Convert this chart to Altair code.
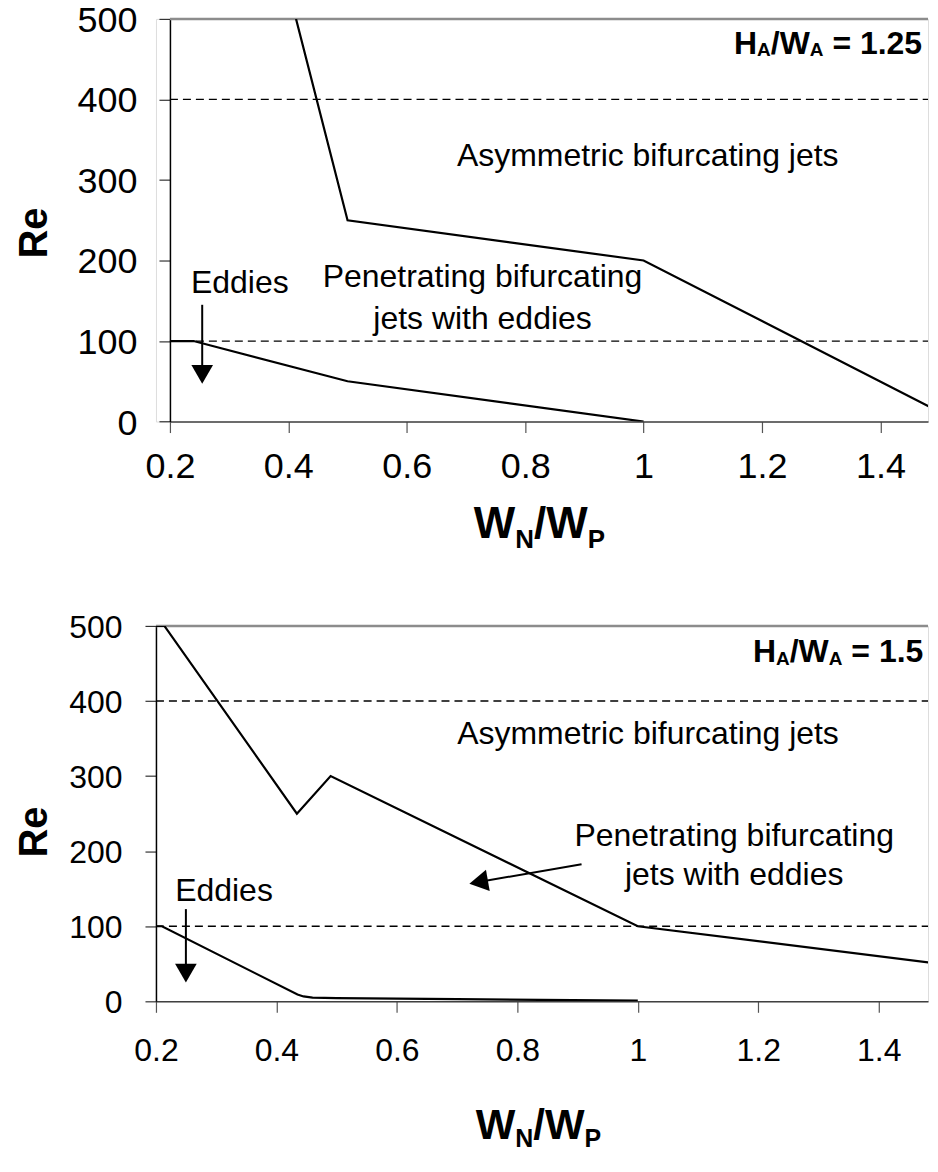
import altair as alt
import pandas as pd

FONT = "Liberation Sans"

# ---------------- data ----------------
x_ticks = [0.2, 0.4, 0.6, 0.8, 1.0, 1.2, 1.4]
y_ticks = [0, 100, 200, 300, 400, 500]
dashed_levels = [400, 100]
frame_top = [500]

# Panel 1: H_A/W_A = 1.25
p1_upper_x = [0.413, 0.5, 1.0, 1.5]
p1_upper_re = [500, 250, 200, 12]
p1_lower_x = [0.2, 0.24, 0.5, 1.0]
p1_lower_re = [100, 100, 50, 0]

# Panel 2: H_A/W_A = 1.5
p2_upper_x = [0.2, 0.214, 0.434, 0.49, 1.0, 1.5]
p2_upper_re = [500, 500, 250, 300, 100, 50]
p2_lower_x = [0.2, 0.21, 0.435, 0.445, 0.46, 0.5, 0.7, 1.0]
p2_lower_re = [100, 100, 9, 6.5, 5, 4.2, 3, 0.8]

# annotation texts (label, x, Re)
p1_labels = ["Asymmetric bifurcating jets", "Penetrating bifurcating", "jets with eddies", "Eddies"]
p1_label_x = [1.007, 0.728, 0.728, 0.318]
p1_label_re = [329.7, 179.3, 127.6, 171.7]
p2_labels = ["Asymmetric bifurcating jets", "Penetrating bifurcating", "jets with eddies", "Eddies"]
p2_label_x = [1.017, 1.160, 1.160, 0.313]
p2_label_re = [356.1, 220.7, 168.0, 147.3]

# arrows: (x_start, re_start, x_head, re_head, head_angle)
p1_arrows = [(0.2545, 145, 0.2545, 58.6, 180)]
p2_arrows = [(0.2497, 122.8, 0.2497, 37.6, 180), (0.9066, 182.7, 0.7357, 158.9, 260)]

BOLD_W = {"H": .722, "A": .722, "/": .278, "W": .944, "N": .722, "P": .667,
          " ": .278, "=": .584, "1": .556, ".": .278, "2": .556, "5": .556}

one_row = pd.DataFrame({"k": [0]})


def rich_text(pieces, x0, y0):
    """pieces: (text, font size, baseline shift, gap before in em)"""
    layers = []
    x = x0
    for text, size, dy, gap in pieces:
        x += gap * size
        layers.append(
            alt.Chart(one_row).mark_text(
                text=text, font=FONT, fontSize=size, fontWeight="bold",
                align="left", baseline="alphabetic", color="black"
            ).encode(x=alt.value(x), y=alt.value(y0 + dy))
        )
        x += sum(BOLD_W[c] for c in text) * size
    return layers


def panel(upper_x, upper_re, lower_x, lower_re, labels, lab_x, lab_re, arrows,
          width, shift, height, xmax, ylab_fs, ylab_pad, ytitle_pad, ytitle_y,
          xlab_fs, xlab_pad, text_fs, ha_text, ha_pos, xt_pos, xt_sizes):
    X = alt.X("x:Q", scale=alt.Scale(domain=[0.2, xmax], nice=False, zero=False,
                                     range=[shift, shift + width]),
              axis=alt.Axis(values=x_ticks, format=".1~f", title=None,
                            labelFontSize=xlab_fs, labelPadding=xlab_pad, tickSize=11,
                            grid=False, domainColor="#404040", domainWidth=1.5,
                            tickColor="#555555", tickWidth=1.2,
                            labelFont=FONT, labelColor="black",
                            labelFlush=False, labelOverlap=False))
    Y = alt.Y("re:Q", scale=alt.Scale(domain=[0, 500], nice=False),
              axis=alt.Axis(values=y_ticks, title="Re", titleFont=FONT,
                            titleFontSize=40, titleFontWeight="bold", titleColor="black",
                            titlePadding=ytitle_pad, titleY=ytitle_y, offset=-shift,
                            labelFontSize=ylab_fs, labelPadding=ylab_pad, tickSize=11,
                            labelOffset=1.5,
                            grid=False, domainColor="black", domainWidth=1.5,
                            tickColor="#333333", tickWidth=1.2,
                            labelFont=FONT, labelColor="black", labelOverlap=False))

    curves = pd.DataFrame({
        "x": upper_x + lower_x,
        "re": upper_re + lower_re,
        "curve": ["upper"] * len(upper_x) + ["lower"] * len(lower_x),
    })
    border = pd.DataFrame({"re": frame_top, "x": [0.2] * len(frame_top),
                           "x2": [xmax] * len(frame_top)})
    dashed = pd.DataFrame({"re": dashed_levels, "x": [0.2] * len(dashed_levels),
                           "x2": [xmax] * len(dashed_levels)})
    texts = pd.DataFrame({"label": labels, "x": lab_x, "re": lab_re})
    shafts = pd.DataFrame({"x": [a[0] for a in arrows], "re": [a[1] for a in arrows],
                           "x2": [a[2] for a in arrows], "re2": [a[3] for a in arrows]})

    layers = [
        alt.Chart(border).mark_rule(color="#8c8c8c", strokeWidth=2.5).encode(
            x=X, x2="x2:Q", y=Y),
        alt.Chart(dashed).mark_rule(color="black", strokeWidth=1.3, strokeDash=[8, 5]).encode(
            x=X, x2="x2:Q", y=Y),
        alt.Chart(curves).mark_line(color="black", strokeWidth=2.2, clip=True).encode(
            x=X, y=Y, detail="curve:N"),
        alt.Chart(texts).mark_text(font=FONT, fontSize=text_fs, align="center",
                                   baseline="middle", color="black").encode(
            x=X, y=Y, text="label:N"),
        alt.Chart(shafts).mark_rule(color="black", strokeWidth=2).encode(
            x=X, y=Y, x2="x2:Q", y2="re2:Q"),
    ]
    for a in arrows:
        head = pd.DataFrame({"x": [a[2]], "re": [a[3]]})
        layers.append(
            alt.Chart(head).mark_point(shape="triangle-up", filled=True, size=470,
                                       angle=a[4], color="black", opacity=1).encode(x=X, y=Y)
        )
    # H_A/W_A label
    hx, hy, main_fs, sub_fs, sub_dy = ha_pos
    layers += rich_text([("H", main_fs, 0, 0), ("A", sub_fs, sub_dy, 0),
                         ("/W", main_fs, 0, 0), ("A", sub_fs, sub_dy, 0),
                         (ha_text, main_fs, 0, 0.278)], shift + hx, hy)
    # x-axis title W_N/W_P
    tx, ty, tsub_dy = xt_pos
    big, small = xt_sizes
    layers += rich_text([("W", big, 0, 0), ("N", small, tsub_dy, 0), ("/W", big, 0, 0),
                         ("P", small, tsub_dy, 0)], shift + tx, ty)
    return alt.layer(*layers).properties(width=shift + width, height=height)


top = panel(p1_upper_x, p1_upper_re, p1_lower_x, p1_lower_re,
            p1_labels, p1_label_x, p1_label_re, p1_arrows,
            width=759.3, shift=14, height=403.3, xmax=1.4804,
            ylab_fs=36, ylab_pad=22, ytitle_pad=23, ytitle_y=214,
            xlab_fs=36, xlab_pad=17, text_fs=32,
            ha_text="= 1.25", ha_pos=(565, 35, 32, 19, 2),
            xt_pos=(304.3, 520, 10), xt_sizes=(44, 26))

bottom = panel(p2_upper_x, p2_upper_re, p2_lower_x, p2_lower_re,
               p2_labels, p2_label_x, p2_label_re, p2_arrows,
               width=773.3, shift=0, height=376, xmax=1.4818,
               ylab_fs=32, ylab_pad=23, ytitle_pad=14.6, ytitle_y=206,
               xlab_fs=32, xlab_pad=23, text_fs=32,
               ha_text="= 1.5", ha_pos=(598, 35.7, 32, 19, 3),
               xt_pos=(320.3, 514, 8), xt_sizes=(42, 25))

chart = alt.concat(top, bottom, columns=1, spacing=57).properties(
    padding={"left": 5.2, "top": -7, "right": 0, "bottom": -1}
).configure_view(stroke="transparent").configure(font=FONT)

chart.save("out.html", embed_options={"renderer": "svg", "actions": False})
